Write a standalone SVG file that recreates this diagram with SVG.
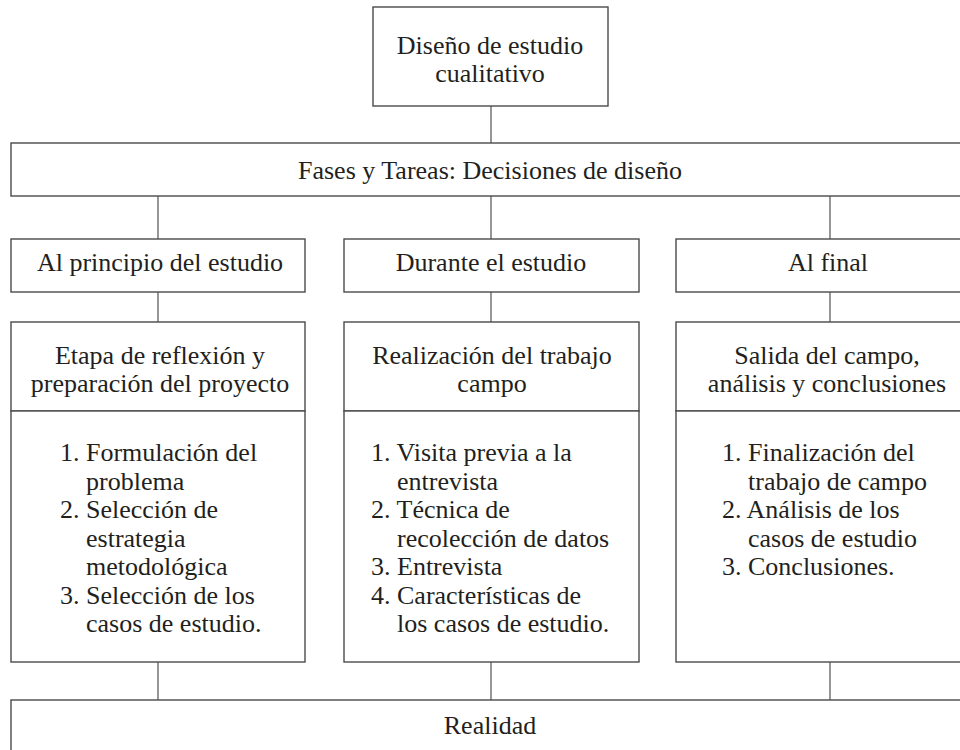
<svg xmlns="http://www.w3.org/2000/svg" width="960" height="750" viewBox="0 0 960 750">
<style>
.box{fill:#fff;stroke:#4a4a4a;stroke-width:1.4}
.con{stroke:#6a6a6a;stroke-width:1.4;fill:none}
text{font-family:"Liberation Serif","Times New Roman",serif;font-size:26px;fill:#231f20}
.c{text-anchor:middle}
</style>
<rect width="960" height="750" fill="#fff"/>
<g id="connectors">
<line class="con" x1="491" y1="106" x2="491" y2="143"/>
<line class="con" x1="158" y1="196" x2="158" y2="239"/>
<line class="con" x1="491" y1="196" x2="491" y2="239"/>
<line class="con" x1="830" y1="196" x2="830" y2="239"/>
<line class="con" x1="158" y1="292" x2="158" y2="322"/>
<line class="con" x1="491" y1="292" x2="491" y2="322"/>
<line class="con" x1="830" y1="292" x2="830" y2="322"/>
<line class="con" x1="158" y1="662" x2="158" y2="700"/>
<line class="con" x1="491" y1="662" x2="491" y2="700"/>
<line class="con" x1="830" y1="662" x2="830" y2="700"/>
</g>
<g id="diseno">
<rect class="box" x="373" y="7" width="235" height="99"/>
<text class="c" x="490" y="54">Diseño de estudio</text>
<text class="c" x="490" y="82">cualitativo</text>
</g>
<g id="fases">
<rect class="box" x="11" y="143" width="960" height="53"/>
<text class="c" x="490" y="179">Fases y Tareas: Decisiones de diseño</text>
</g>
<g id="principio">
<rect class="box" x="11" y="239" width="294" height="53"/>
<text class="c" x="160" y="271">Al principio del estudio</text>
</g>
<g id="durante">
<rect class="box" x="344" y="239" width="295" height="53"/>
<text class="c" x="491" y="271">Durante el estudio</text>
</g>
<g id="final">
<rect class="box" x="676" y="239" width="295" height="53"/>
<text class="c" x="828" y="271">Al final</text>
</g>
<g id="etapa">
<rect class="box" x="11" y="322" width="294" height="89"/>
<text class="c" x="160" y="364">Etapa de reflexión y</text>
<text class="c" x="160" y="392">preparación del proyecto</text>
<rect class="box" x="11" y="411" width="294" height="251"/>
<text x="60" y="461">1. Formulación del</text>
<text x="86" y="489.5">problema</text>
<text x="60" y="518">2. Selección de</text>
<text x="86" y="546.5">estrategia</text>
<text x="86" y="575">metodológica</text>
<text x="60" y="603.5">3. Selección de los</text>
<text x="86" y="632">casos de estudio.</text>
</g>
<g id="realizacion">
<rect class="box" x="344" y="322" width="295" height="89"/>
<text class="c" x="492" y="364">Realización del trabajo</text>
<text class="c" x="492" y="392">campo</text>
<rect class="box" x="344" y="411" width="295" height="251"/>
<text x="371" y="461">1. Visita previa a la</text>
<text x="397" y="489.5">entrevista</text>
<text x="371" y="518">2. Técnica de</text>
<text x="397" y="546.5">recolección de datos</text>
<text x="371" y="575">3. Entrevista</text>
<text x="371" y="603.5">4. Características de</text>
<text x="397" y="632">los casos de estudio.</text>
</g>
<g id="salida">
<rect class="box" x="676" y="322" width="295" height="89"/>
<text class="c" x="827" y="364">Salida del campo,</text>
<text class="c" x="827" y="392">análisis y conclusiones</text>
<rect class="box" x="676" y="411" width="295" height="251"/>
<text x="722" y="461">1. Finalización del</text>
<text x="748" y="489.5">trabajo de campo</text>
<text x="722" y="518">2. Análisis de los</text>
<text x="748" y="546.5">casos de estudio</text>
<text x="722" y="575">3. Conclusiones.</text>
</g>
<g id="realidad">
<rect class="box" x="11" y="700" width="960" height="60"/>
<text class="c" x="490" y="734">Realidad</text>
</g>
</svg>
